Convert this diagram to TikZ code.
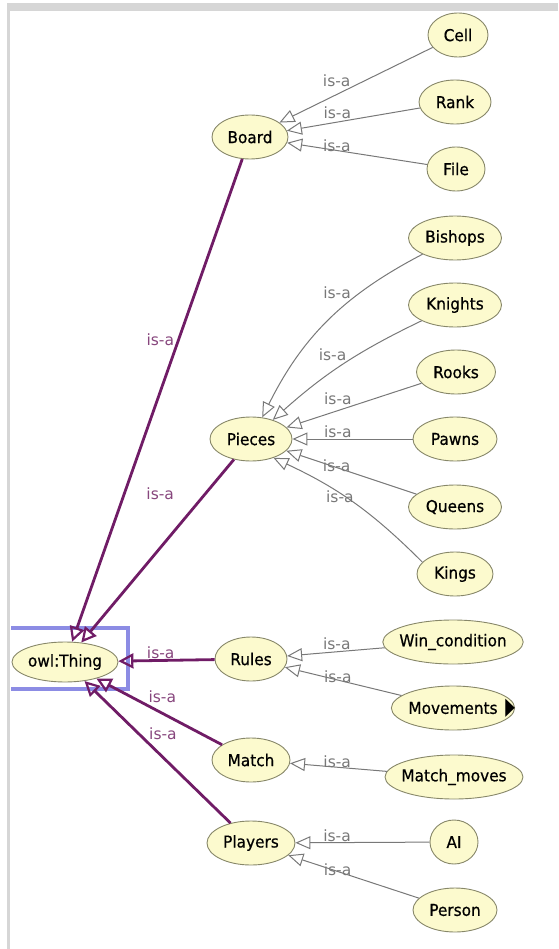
\documentclass[tikz,border=0pt]{standalone}
\usepackage{fontspec}
\setmainfont{DejaVu Sans}
\newfontfamily\clsfont{DejaVu Sans}[FakeStretch=0.94, FakeBold=0.6]
\usetikzlibrary{arrows.meta,shapes.geometric}
\definecolor{clsfill}{RGB}{252,250,206}
\definecolor{clsline}{RGB}{135,135,105}
\definecolor{isagray}{RGB}{120,120,120}
\definecolor{isapurple}{RGB}{112,28,102}
\definecolor{rootlblcol}{RGB}{135,70,125}
\definecolor{selblue}{RGB}{140,140,228}
\definecolor{framegray}{RGB}{214,214,214}
\tikzset{
  cls/.style={ellipse, draw=clsline, fill=clsfill, line width=0.9pt, inner sep=0pt,
    minimum height=44pt, text=black, font=\clsfont\fontsize{16.3}{16.3}\selectfont},
  isa/.style={draw=isagray, line width=1pt, -{Triangle[open, length=15pt, width=13pt]}},
  rootisa/.style={draw=isapurple, line width=2.8pt, -{Triangle[open, length=15pt, width=15pt, line width=2.2pt]}},
  lbl/.style={text=isagray, font=\fontsize{15.5}{15.5}\selectfont, inner sep=0.5pt},
  rootlbl/.style={lbl, text=rootlblcol},
  selbox/.style={draw=selblue, line width=3.5pt},
}

\begin{document}
\begin{tikzpicture}[x=1pt, y=1pt]
\useasboundingbox (0,0) rectangle (558,-949);
\fill[framegray] (7,-3) rectangle (558,-11);
\fill[framegray] (7,-11) rectangle (10,-949);

\node[cls, minimum width=106pt, minimum height=40pt, inner xsep=-1pt] (thing) at (65,-662) {owl:Thing};
\node[cls, minimum width=76pt] (board) at (250,-137) {Board};
\node[cls, minimum width=60pt] (cell) at (458,-35) {Cell};
\node[cls, minimum width=72pt] (rank) at (455,-102) {Rank};
\node[cls, minimum width=58pt] (file) at (456,-169) {File};
\node[cls, minimum width=82pt] (pieces) at (251,-439) {Pieces};
\node[cls, minimum width=93pt] (bishops) at (455,-238) {Bishops};
\node[cls, minimum width=93pt] (knights) at (455,-305) {Knights};
\node[cls, minimum width=79pt] (rooks) at (456,-372) {Rooks};
\node[cls, minimum width=84pt] (pawns) at (455,-439) {Pawns};
\node[cls, minimum width=93pt] (queens) at (455,-507) {Queens};
\node[cls, minimum width=76pt] (kings) at (455,-574) {Kings};
\node[cls, minimum width=72pt] (rules) at (251,-659) {Rules};
\node[cls, minimum width=140pt, inner xsep=-4pt] (wincond) at (453,-642) {Win\_condition};
\node[cls, minimum width=123pt, inner xsep=-1pt,
  label={[label distance=-10pt, inner sep=0pt]east:\scalebox{1.25}[2.4]{▶}}] (movements) at (453,-708) {Movements};
\node[cls, minimum width=78pt] (match) at (251,-760) {Match};
\node[cls, minimum width=138pt, inner xsep=-4pt] (matchmoves) at (454,-777) {Match\_moves};
\node[cls, minimum width=88pt] (players) at (251,-843) {Players};
\node[cls, minimum width=48pt] (ai) at (454,-842) {AI};
\node[cls, minimum width=84pt] (person) at (455,-910) {Person};

\draw[selbox] (11,-628) -- (128,-628) -- (128,-689) -- (11,-689);

\draw[isa] (cell) -- node[lbl, pos=0.53, anchor=south east] {is-a} (board);
\draw[isa] (rank) -- node[lbl, pos=0.51, anchor=south east] {is-a} (board);
\draw[isa] (file) -- node[lbl, pos=0.54, anchor=south east] {is-a} (board);
\draw[isa] (bishops) to[bend right=18] node[lbl, pos=0.35, anchor=south east] {is-a} (pieces);
\draw[isa] (knights) to[bend right=8] node[lbl, pos=0.47, anchor=south east] {is-a} (pieces);
\draw[isa] (rooks) -- node[lbl, pos=0.51, anchor=south east] {is-a} (pieces);
\draw[isa] (pawns) -- node[lbl, pos=0.50, anchor=south east] {is-a} (pieces);
\draw[isa] (queens) -- node[lbl, pos=0.50, anchor=south east] {is-a} (pieces);
\draw[isa] (kings.160) to[bend right=10] node[lbl, pos=0.49, anchor=south east] {is-a} (pieces.-40);
\draw[isa] (wincond) -- node[lbl, pos=0.34, anchor=south east] {is-a} (rules);
\draw[isa] (movements) -- node[lbl, pos=0.42, anchor=south east] {is-a} (rules);
\draw[isa] (matchmoves) -- node[lbl, pos=0.36, anchor=south east] {is-a} (match);
\draw[isa] (ai) -- node[lbl, pos=0.58, anchor=south east] {is-a} (players);
\draw[isa] (person) -- node[lbl, pos=0.51, anchor=south east] {is-a} (players);

\draw[rootisa] (board) -- node[rootlbl, pos=0.39, anchor=south east] {is-a} (thing);
\draw[rootisa] (pieces) -- node[rootlbl, pos=0.23, anchor=south east, xshift=-23pt] {is-a} (thing);
\draw[rootisa] (rules) -- node[rootlbl, pos=0.56, anchor=south] {is-a} (thing);
\draw[rootisa] (match) -- node[rootlbl, pos=0.6, anchor=south west] {is-a} (thing);
\draw[rootisa] (players) -- node[rootlbl, pos=0.57, anchor=south west] {is-a} (thing);
\end{tikzpicture}
\end{document}
